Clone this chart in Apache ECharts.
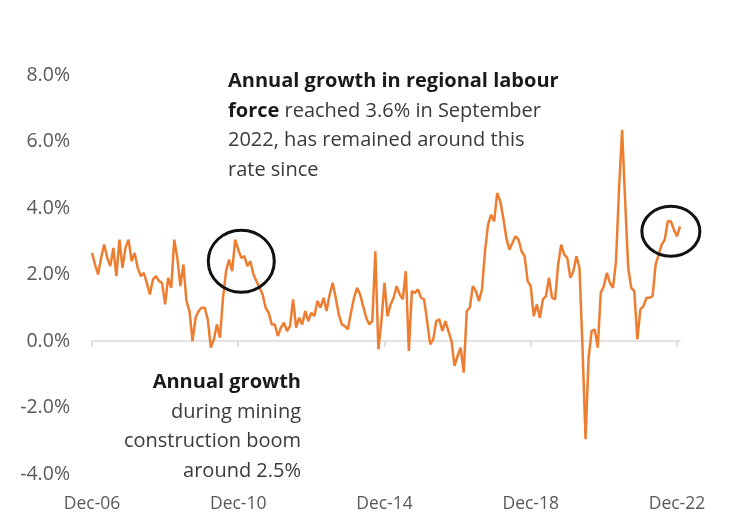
<!DOCTYPE html>
<html>
<head>
<meta charset="utf-8">
<script src="https://cdn.jsdelivr.net/npm/echarts@6/dist/echarts.min.js"></script>
<style>
  html, body { margin: 0; padding: 0; background: #ffffff; }
  #chart { width: 730px; height: 527px; }
</style>
</head>
<body>
<div id="chart"></div>
<script>
// Annual growth in the regional labour force, monthly from Dec-06 (per cent)
const startYear = 2006;
const startMonth = 11; // December
const monthNames = ['Jan','Feb','Mar','Apr','May','Jun','Jul','Aug','Sep','Oct','Nov','Dec'];

const growth = [
  2.65, 2.3, 2.0, 2.5, 2.9, 2.5, 2.25, 2.8, 1.95, 3.05, 2.2, 2.8,
  3.05, 2.4, 2.65, 2.2, 1.95, 2.05, 1.75, 1.4, 1.85, 1.95, 1.8, 1.75,
  1.1, 1.9, 1.6, 3.05, 2.5, 1.65, 2.3, 1.2, 0.9, 0.0, 0.7, 0.9,
  1.0, 1.0, 0.65, -0.2, 0.05, 0.5, 0.1, 1.3, 2.1, 2.45, 2.1, 3.05,
  2.75, 2.5, 2.55, 2.25, 2.4, 2.0, 1.8, 1.6, 1.4, 1.0, 0.85, 0.5,
  0.5, 0.15, 0.4, 0.55, 0.3, 0.45, 1.25, 0.4, 0.7, 0.5, 0.9, 0.6,
  0.85, 0.75, 1.2, 1.0, 1.3, 0.9, 1.4, 1.75, 1.3, 0.8, 0.5, 0.45,
  0.35, 0.85, 1.3, 1.6, 1.4, 1.05, 0.7, 0.5, 0.6, 2.7, -0.25, 0.6,
  1.75, 0.75, 1.1, 1.3, 1.65, 1.4, 1.25, 2.1, -0.3, 1.5, 1.45, 1.55,
  1.3, 1.25, 0.6, -0.1, 0.05, 0.6, 0.65, 0.3, 0.6, 0.3, 0.0, -0.75,
  -0.45, -0.2, -0.95, 0.9, 1.0, 1.65, 1.5, 1.2, 1.55, 2.7, 3.5, 3.8,
  3.6, 4.45, 4.2, 3.7, 3.1, 2.75, 2.95, 3.15, 3.05, 2.7, 2.55, 1.8,
  1.65, 0.75, 1.1, 0.7, 1.25, 1.35, 1.9, 1.3, 1.25, 2.3, 2.9, 2.6,
  2.5, 1.9, 2.1, 2.55, 2.2, -0.2, -2.95, -0.5, 0.3, 0.35, -0.2, 1.45,
  1.65, 2.05, 1.75, 1.6, 2.4, 4.6, 6.35, 4.2, 2.2, 1.6, 1.5, 0.05,
  0.95, 1.05, 1.3, 1.3, 1.35, 2.3, 2.6, 2.9, 3.05, 3.6, 3.6, 3.35,
  3.15, 3.45
];

// Month labels such as "Dec-06", one per value
const months = growth.map(function (_, i) {
  const m = (startMonth + i) % 12;
  const y = startYear + Math.floor((startMonth + i) / 12);
  return monthNames[m] + '-' + String(y % 100).padStart(2, '0');
});

// Y axis range and step (per cent)
const yMin = -4, yMax = 8, yStep = 2;
// Labelled months on the x axis: every fourth December
const labelEvery = 48;

// Highlighted points: mining boom peak and the latest reading
const highlightBoom = { month: 'Jan-11', value: 2.4 };
const highlightLatest = { month: 'Oct-22', value: 3.3 };

const FONT = '"Open Sans", Lato, sans-serif';
const chart = echarts.init(document.getElementById('chart'), null, { renderer: 'canvas' });

const everyLabel = function (idx) { return idx % labelEvery === 0; };

chart.setOption({
  animation: false,
  backgroundColor: '#ffffff',
  grid: { left: 92, right: 50, top: 75, bottom: 53, containLabel: false },
  xAxis: [
    {
      type: 'category',
      data: months,
      boundaryGap: false,
      position: 'bottom',
      axisLine: { show: false, onZero: false },
      axisTick: { show: false },
      splitLine: { show: false },
      axisLabel: {
        interval: everyLabel,
        color: '#595959',
        fontFamily: FONT,
        fontSize: 17.5,
        margin: 21
      }
    },
    {
      type: 'category',
      data: months,
      boundaryGap: false,
      position: 'bottom',
      axisLine: { show: true, onZero: true, lineStyle: { color: '#d9d9d9', width: 1.5 } },
      axisTick: { show: true, interval: everyLabel, length: 6, lineStyle: { color: '#d9d9d9', width: 1.5 } },
      axisLabel: { show: false },
      splitLine: { show: false }
    }
  ],
  yAxis: {
    type: 'value',
    min: yMin,
    max: yMax,
    interval: yStep,
    axisLine: { show: false },
    axisTick: { show: false },
    splitLine: { show: false },
    axisLabel: {
      color: '#595959',
      fontFamily: FONT,
      fontSize: 19.5,
      margin: 22,
      formatter: function (v) { return v.toFixed(1) + '%'; }
    }
  },
  series: [
    {
      type: 'line',
      xAxisIndex: 0,
      data: growth,
      showSymbol: false,
      symbol: 'none',
      smooth: false,
      lineStyle: { color: '#ED7D31', width: 2.5 },
      z: 3
    }
  ]
});

// Annotations: two ellipses around highlighted points and two text blocks
function ringAt(point, rx, ry) {
  const p = chart.convertToPixel({ xAxisIndex: 0, yAxisIndex: 0 }, [point.month, point.value]);
  return {
    type: 'ellipse',
    shape: { cx: p[0], cy: p[1], rx: rx, ry: ry },
    style: { fill: 'none', stroke: '#111111', lineWidth: 3 },
    z: 10
  };
}

const textBase = {
  fontFamily: FONT,
  fontSize: 20,
  lineHeight: 29.5,
  fill: '#3a3a3a'
};
const boldRich = { b: { fontFamily: FONT, fontSize: 20, fontWeight: 'bold', fill: '#1a1a1a', lineHeight: 29.5 } };

chart.setOption({
  graphic: [
    ringAt(highlightBoom, 33, 31),
    ringAt(highlightLatest, 29, 25),
    {
      type: 'text',
      left: 228,
      top: 67,
      z: 10,
      style: Object.assign({}, textBase, {
        text: '{b|Annual growth in regional labour}\n{b|force} reached 3.6% in September\n2022, has remained around this\nrate since',
        rich: boldRich,
        textAlign: 'left'
      })
    },
    {
      type: 'text',
      right: 730 - 301,
      top: 368,
      z: 10,
      style: Object.assign({}, textBase, {
        text: '{b|Annual growth}\nduring mining\nconstruction boom\naround 2.5%',
        rich: boldRich,
        textAlign: 'right'
      })
    }
  ]
});
</script>
</body>
</html>
